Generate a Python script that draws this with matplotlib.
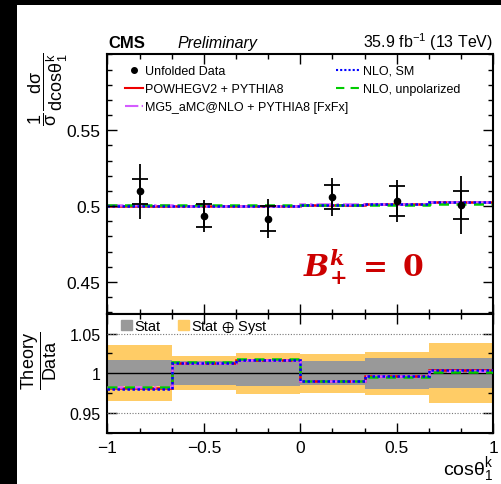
import numpy as np
import matplotlib
matplotlib.use("Agg")
import matplotlib.pyplot as plt
from matplotlib.patches import Rectangle, Patch
from matplotlib.lines import Line2D
from matplotlib.ticker import MultipleLocator

plt.rcParams["font.family"] = ["Liberation Sans", "DejaVu Sans"]
plt.rcParams["mathtext.fontset"] = "custom"
plt.rcParams["mathtext.rm"] = "Liberation Sans"
plt.rcParams["mathtext.it"] = "Liberation Sans:italic"
plt.rcParams["mathtext.bf"] = "Liberation Sans:bold"

# --- data ---
bin_edges = [-1, -2/3, -1/3, 0, 1/3, 2/3, 1]
data = [0.5097, 0.4937, 0.4918, 0.5060, 0.5033, 0.5008]
stat_err = [0.0084, 0.0074, 0.0082, 0.0077, 0.0098, 0.0093]
tot_err = [0.0181, 0.0106, 0.0128, 0.0125, 0.0136, 0.0189]

powheg = [0.5000, 0.5001, 0.5000, 0.5010, 0.5017, 0.5030]
mg5 = [0.5006, 0.5003, 0.4998, 0.5011, 0.5015, 0.5024]
nlo_sm = [0.4998, 0.5001, 0.5001, 0.5010, 0.5016, 0.5026]
nlo_unpol = [0.5008, 0.5008, 0.5004, 0.5009, 0.5010, 0.5014]

edges = np.array(bin_edges)
centers = 0.5 * (edges[1:] + edges[:-1])
widths = np.diff(edges)
data = np.array(data)
stat_err = np.array(stat_err)
tot_err = np.array(tot_err)

models = [
    ("POWHEGV2 + PYTHIA8", powheg, "#ee0000", "-"),
    ("MG5_aMC@NLO + PYTHIA8 [FxFx]", mg5, "#d45cff", "-."),
    ("NLO, unpolarized", nlo_unpol, "#00cc00", (0, (4, 3))),
    ("NLO, SM", nlo_sm, "#0000ff", (0, (1, 1))),
]

fig = plt.figure(figsize=(5.02, 4.85), dpi=100, facecolor="black")
fig.patches.append(Rectangle((17/502, 0), 1, 1 - 6/485, transform=fig.transFigure,
                             facecolor="white", edgecolor="none", zorder=-10))

ax = fig.add_axes([0.2141, 0.3495, 0.768, 0.5371])
axr = fig.add_axes([0.2141, 0.1052, 0.768, 0.2443], sharex=ax)

# --- upper panel ---
handles = {}
for name, vals, col, ls in models:
    ax.stairs(vals, edges, color=col, linestyle=ls, linewidth=1.8, baseline=None)
    handles[name] = Line2D([], [], color=col, linestyle=ls, linewidth=1.5)

ax.errorbar(centers, data, yerr=tot_err, fmt="none", ecolor="black", elinewidth=1.3, capsize=0, zorder=5)
ax.errorbar(centers, data, yerr=stat_err, fmt="o", color="black", markersize=4.5,
            ecolor="black", elinewidth=1.3, capsize=6, capthick=1.3, zorder=6)
handles["Unfolded Data"] = Line2D([], [], color="black", marker="o", markersize=4, linestyle="none")

ax.set_xlim(-1, 1)
ax.set_ylim(0.4285, 0.6003)
ax.set_yticks([0.45, 0.5, 0.55], ["0.45", "0.5", "0.55"])
ax.yaxis.set_minor_locator(MultipleLocator(0.01))
ax.tick_params(labelbottom=False)

leg1 = ax.legend([handles[n] for n in ["Unfolded Data", "POWHEGV2 + PYTHIA8", "MG5_aMC@NLO + PYTHIA8 [FxFx]"]],
                 ["Unfolded Data", "POWHEGV2 + PYTHIA8", "MG5_aMC@NLO + PYTHIA8 [FxFx]"],
                 loc="upper left", bbox_to_anchor=(0.045, 0.958), frameon=False, fontsize=9,
                 borderpad=0, borderaxespad=0, handlelength=1.45, handletextpad=0.2, labelspacing=0.5)
ax.add_artist(leg1)
ax.legend([handles["NLO, SM"], handles["NLO, unpolarized"]], ["NLO, SM", "NLO, unpolarized"],
          loc="upper left", bbox_to_anchor=(0.594, 0.958), frameon=False, fontsize=9,
          borderpad=0, borderaxespad=0, handlelength=1.85, handletextpad=0.25, labelspacing=0.5)

ax.text(0.665, 0.148, r"$\mathbfit{B}^{\mathbfit{k}}_{\mathbf{+}}\mathbf{\ =\ 0}$", transform=ax.transAxes,
        ha="center", va="baseline", fontsize=21.5, color="#cc0000", math_fontfamily="dejavuserif")

ax.set_ylabel(r"$\mathregular{\dfrac{1}{\sigma}\,\dfrac{d\sigma}{dcos\theta_1^k}}$", fontsize=13, loc="top")
ax.yaxis.set_label_coords(-0.097, 1.01)

fig.text(108/502, 1 - 48/485, "CMS", fontsize=12, fontweight="bold", va="baseline")
fig.text(177/502, 1 - 48/485, "Preliminary", fontsize=11.5, fontstyle="italic", va="baseline")
fig.text(493/502, 1 - 48/485, r"35.9 fb$^{\mathregular{-1}}$ (13 TeV)", fontsize=11.5, ha="right", va="baseline")

# --- ratio panel ---
ratios = {name: np.array(vals) / data for name, vals, col, ls in models}
rel_stat = stat_err / data
rel_tot = tot_err / data

axr.bar(centers, 2 * rel_tot, bottom=1 - rel_tot, width=widths, color="#ffcc66", edgecolor="none", zorder=1)
axr.bar(centers, 2 * rel_stat, bottom=1 - rel_stat, width=widths, color="#999999", edgecolor="none", zorder=2)
axr.axhline(1, color="black", linewidth=1.0, zorder=3)
for yv in [0.95, 1.05]:
    axr.axhline(yv, color="#777777", linestyle=(0, (1, 1.5)), linewidth=0.8, zorder=3)
for name, vals, col, ls in models:
    axr.stairs(ratios[name], edges, color=col, linestyle=ls, linewidth=1.8, baseline=None, zorder=4)

axr.legend([Patch(color="#999999"), Patch(color="#ffcc66")], ["Stat", r"Stat $\mathregular{\oplus}$ Syst"],
           loc="upper left", bbox_to_anchor=(0.035, 0.97), ncol=2, frameon=False, fontsize=10.5,
           borderpad=0, borderaxespad=0, handlelength=0.75, handleheight=0.75, handletextpad=0.15,
           columnspacing=1.2)

axr.set_ylim(0.9246, 1.074)
axr.set_yticks([0.95, 1.0, 1.05], ["0.95", "1", "1.05"])
axr.yaxis.set_minor_locator(MultipleLocator(0.025))
axr.set_xticks([-1, -0.5, 0, 0.5, 1], ["\u22121", "\u22120.5", "0", "0.5", "1"])
axr.xaxis.set_minor_locator(MultipleLocator(1/6))
axr.set_ylabel(r"$\mathregular{\dfrac{Theory}{Data}}$", fontsize=13)
axr.yaxis.set_label_coords(-0.126, 0.62)
axr.set_xlabel(r"cos$\mathregular{\theta_1^k}$", fontsize=14, loc="right")
axr.xaxis.set_label_coords(1.0, -0.175)

for a in (ax, axr):
    for s in a.spines.values():
        s.set_linewidth(1.5)
    a.tick_params(which="both", direction="in", top=True, right=True, width=1.0)
    a.tick_params(which="major", length=7, labelsize=12.5, pad=5)
    a.tick_params(which="minor", length=3.5)
axr.tick_params(axis="y", which="major", labelsize=11.5)

fig.savefig("out.png", dpi=100, facecolor="black")
